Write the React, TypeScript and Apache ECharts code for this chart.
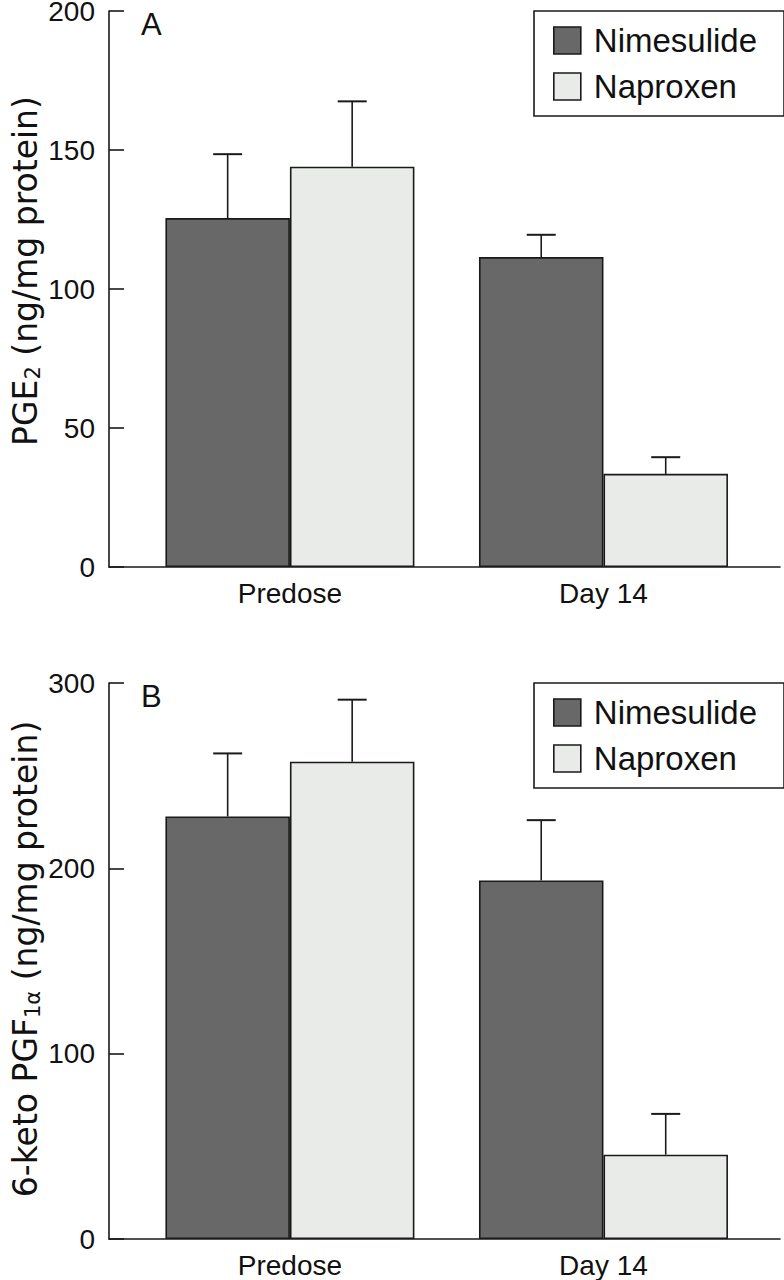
import React, { useEffect, useRef } from "react";
import * as echarts from "echarts";

const categories = ["Predose", "Day 14"];
const categoryPositions = [0, 1];

// Panel A: PGE2 (ng/mg protein)
const pge2Nimesulide = [125.5, 111.5];
const pge2NimesulideUpper = [148.5, 119.5];
const pge2Naproxen = [144, 33.5];
const pge2NaproxenUpper = [167.5, 39.5];

// Panel B: 6-keto PGF1alpha (ng/mg protein)
const pgfNimesulide = [228, 193.5];
const pgfNimesulideUpper = [262, 226];
const pgfNaproxen = [257.5, 45.5];
const pgfNaproxenUpper = [291, 67.5];

const panelAYTicks = { min: 0, max: 200, interval: 50 };
const panelBYTicks = { min: 0, max: 300, interval: 100 };

const seriesNames = ["Nimesulide", "Naproxen"];

const FONT = "'Liberation Sans', Arial, Helvetica, sans-serif";
const NAME_FONT = "'DejaVu Sans', 'Liberation Sans', sans-serif";
const DARK = "#686868";
const LIGHT = "#e9ebe9";
const EDGE = "#1a1a1a";
const BAR_W = 124.5;

function errorRenderer(shift: number) {
  return (params: any, api: any) => {
    const x = api.value(0);
    const top = api.value(1);
    const up = api.value(2);
    const p0 = api.coord([x, top]);
    const p1 = api.coord([x, up]);
    const cx = p0[0] + shift;
    return {
      type: "group",
      children: [
        {
          type: "line",
          shape: { x1: cx, y1: p0[1], x2: cx, y2: p1[1] },
          style: { stroke: EDGE, lineWidth: 1.6 },
        },
        {
          type: "line",
          shape: { x1: cx - 14.5, y1: p1[1], x2: cx + 14.5, y2: p1[1] },
          style: { stroke: EDGE, lineWidth: 2 },
        },
      ],
    };
  };
}

export default function App() {
  const ref = useRef<HTMLDivElement>(null);

  useEffect(() => {
    document.body.style.margin = "0";
    const chart = echarts.init(ref.current!, null, { renderer: "svg" });

    const xMin = -0.577;
    const xMax = 1.563;

    const makeX = (gridIndex: number) => ({
      type: "value",
      gridIndex,
      min: xMin,
      max: xMax,
      axisLine: { show: true, onZero: false, lineStyle: { color: EDGE, width: 1.6 } },
      axisTick: { show: false },
      splitLine: { show: false },
      axisLabel: {
        customValues: categoryPositions,
        formatter: (v: number) => categories[Math.round(v)] ?? "",
        color: "#111",
        fontFamily: FONT,
        fontSize: 28,
        margin: 12,
      },
    });

    const makeY = (gridIndex: number, ticks: any, name: string, shiftUp: number) => ({
      type: "value",
      gridIndex,
      min: ticks.min,
      max: ticks.max,
      interval: ticks.interval,
      axisLine: { show: true, onZero: false, lineStyle: { color: EDGE, width: 1.6 } },
      axisTick: { show: true, inside: true, length: 15, lineStyle: { color: EDGE, width: 1.6 } },
      splitLine: { show: false },
      axisLabel: { color: "#111", fontFamily: FONT, fontSize: 28, lineHeight: 22, margin: 14 },
      name,
      nameLocation: "middle",
      nameRotate: 90,
      nameGap: 66,
      nameMoveOverlap: false,
      nameTextStyle: {
        padding: [0, 0, 0, shiftUp],
        rich: {
          m: { fontFamily: NAME_FONT, fontSize: 33, color: "#111", lineHeight: 36 },
          s: { fontFamily: NAME_FONT, fontSize: 21, color: "#111", lineHeight: 13, verticalAlign: "bottom" },
        },
      },
    });

    const toPairs = (vals: number[]) => categoryPositions.map((p, i) => [p, vals[i]]);
    const toErr = (vals: number[], ups: number[]) => categoryPositions.map((p, i) => [p, vals[i], ups[i]]);

    const barSeries = (name: string, idx: number, vals: number[], color: string) => ({
      type: "bar",
      name,
      xAxisIndex: idx,
      yAxisIndex: idx,
      data: toPairs(vals),
      barWidth: BAR_W,
      barGap: "0%",
      itemStyle: { color, borderColor: EDGE, borderWidth: 1.6 },
    });

    const errSeries = (name: string, idx: number, vals: number[], ups: number[], shift: number) => ({
      type: "custom",
      name: name + " SEM",
      xAxisIndex: idx,
      yAxisIndex: idx,
      data: toErr(vals, ups),
      renderItem: errorRenderer(shift),
      z: 5,
      silent: true,
    });

    const makeLegend = (top: number) => ({
      data: seriesNames,
      orient: "vertical",
      left: 534,
      top,
      padding: [13, 27, 13, 19],
      itemWidth: 27,
      itemHeight: 27,
      itemGap: 13,
      borderColor: EDGE,
      borderWidth: 1.6,
      selectedMode: false,
      icon: "rect",
      itemStyle: { borderColor: EDGE, borderWidth: 1.6 },
      textStyle: { fontFamily: FONT, fontSize: 33, color: "#111", lineHeight: 27, padding: [0, 0, 0, 8] },
    });

    chart.setOption({
      animation: false,
      backgroundColor: "#ffffff",
      grid: [
        { left: 109, right: 4, top: 11, height: 556, outerBoundsMode: "none" },
        { left: 109, right: 4, top: 683, height: 556, outerBoundsMode: "none" },
      ],
      xAxis: [makeX(0), makeX(1)],
      yAxis: [
        makeY(0, panelAYTicks, "{m|PGE}{s|2}{m| (ng/mg protein)}", 36),
        makeY(1, panelBYTicks, "{m|6-keto PGF}{s|1α}{m| (ng/mg protein)}", 4),
      ],
      legend: [makeLegend(11), makeLegend(683)],
      graphic: [
        { type: "text", left: 141, top: 9, style: { text: "A", font: `31px ${FONT}`, fill: "#111" } },
        { type: "text", left: 141, top: 681, style: { text: "B", font: `31px ${FONT}`, fill: "#111" } },
      ],
      series: [
        barSeries("Nimesulide", 0, pge2Nimesulide, DARK),
        barSeries("Naproxen", 0, pge2Naproxen, LIGHT),
        errSeries("Nimesulide", 0, pge2Nimesulide, pge2NimesulideUpper, -BAR_W / 2),
        errSeries("Naproxen", 0, pge2Naproxen, pge2NaproxenUpper, BAR_W / 2),
        barSeries("Nimesulide", 1, pgfNimesulide, DARK),
        barSeries("Naproxen", 1, pgfNaproxen, LIGHT),
        errSeries("Nimesulide", 1, pgfNimesulide, pgfNimesulideUpper, -BAR_W / 2),
        errSeries("Naproxen", 1, pgfNaproxen, pgfNaproxenUpper, BAR_W / 2),
      ],
    });

    return () => chart.dispose();
  }, []);

  return <div ref={ref} style={{ width: 784, height: 1280 }} />;
}
